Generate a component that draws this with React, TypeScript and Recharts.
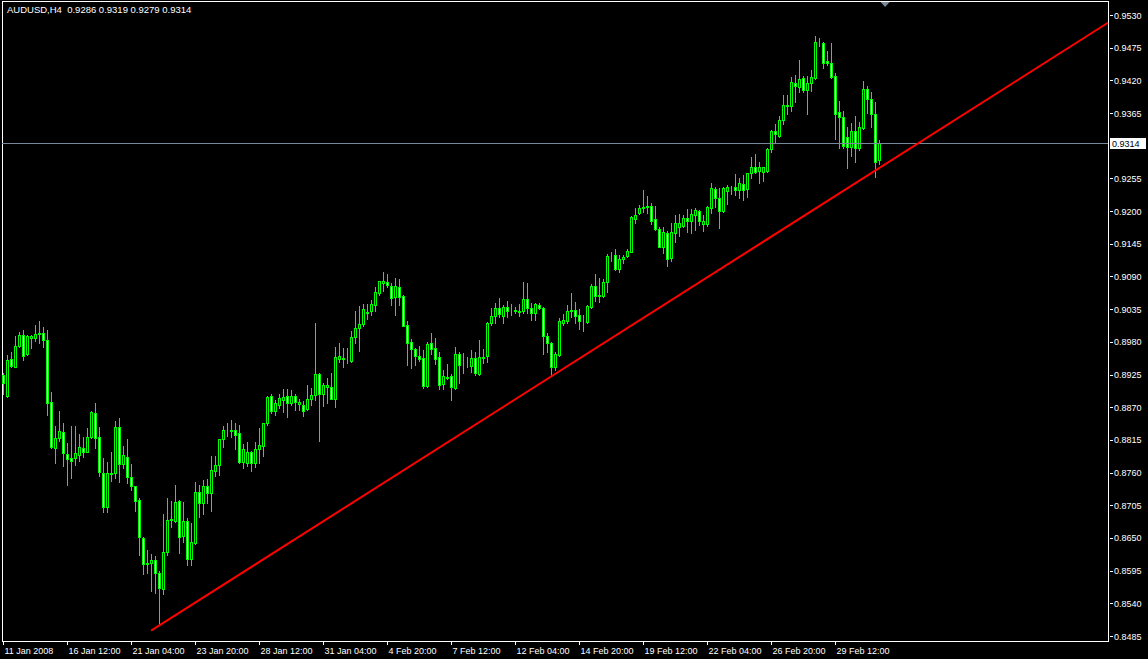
import { ComposedChart, Bar, XAxis, YAxis, ReferenceLine, ReferenceArea, ReferenceDot } from 'recharts';

// AUDUSD H4 candles, [open, high, low, close]
const ohlc: [number, number, number, number][] = [
  [0.8924, 0.8928, 0.8892, 0.8911], [0.8889, 0.8958, 0.8887, 0.8949], [0.8951, 0.8963, 0.8938, 0.8939],
  [0.8938, 0.8990, 0.8937, 0.8973], [0.8973, 0.8997, 0.8971, 0.8992], [0.8992, 0.9000, 0.8949, 0.8956],
  [0.8960, 0.8992, 0.8958, 0.8990], [0.8986, 0.8992, 0.8970, 0.8990], [0.8986, 0.9008, 0.8981, 0.8993],
  [0.8995, 0.9015, 0.8978, 0.8994], [0.8995, 0.9005, 0.8971, 0.8983], [0.8983, 0.9000, 0.8857, 0.8877],
  [0.8879, 0.8896, 0.8801, 0.8803], [0.8801, 0.8838, 0.8776, 0.8818], [0.8818, 0.8864, 0.8813, 0.8830],
  [0.8828, 0.8843, 0.8771, 0.8793], [0.8791, 0.8810, 0.8739, 0.8783], [0.8785, 0.8838, 0.8751, 0.8779],
  [0.8785, 0.8838, 0.8773, 0.8793], [0.8790, 0.8825, 0.8779, 0.8803], [0.8801, 0.8820, 0.8786, 0.8795],
  [0.8795, 0.8835, 0.8794, 0.8820], [0.8820, 0.8864, 0.8818, 0.8862], [0.8860, 0.8877, 0.8801, 0.8818],
  [0.8820, 0.8837, 0.8754, 0.8761], [0.8759, 0.8785, 0.8694, 0.8702], [0.8702, 0.8777, 0.8694, 0.8759],
  [0.8759, 0.8795, 0.8746, 0.8758], [0.8759, 0.8847, 0.8751, 0.8837], [0.8837, 0.8852, 0.8744, 0.8774],
  [0.8774, 0.8805, 0.8768, 0.8790], [0.8786, 0.8817, 0.8742, 0.8753], [0.8753, 0.8774, 0.8731, 0.8737],
  [0.8737, 0.8738, 0.8695, 0.8712], [0.8714, 0.8717, 0.8621, 0.8652], [0.8650, 0.8651, 0.8589, 0.8606],
  [0.8607, 0.8630, 0.8591, 0.8608], [0.8608, 0.8623, 0.8561, 0.8613], [0.8613, 0.8620, 0.8557, 0.8591],
  [0.8591, 0.8594, 0.8505, 0.8566], [0.8564, 0.8690, 0.8556, 0.8626], [0.8626, 0.8717, 0.8621, 0.8680],
  [0.8680, 0.8712, 0.8668, 0.8682], [0.8679, 0.8739, 0.8677, 0.8710], [0.8712, 0.8714, 0.8625, 0.8652],
  [0.8653, 0.8710, 0.8643, 0.8679], [0.8679, 0.8684, 0.8604, 0.8615], [0.8615, 0.8675, 0.8604, 0.8643],
  [0.8641, 0.8744, 0.8640, 0.8727], [0.8727, 0.8739, 0.8685, 0.8709], [0.8709, 0.8748, 0.8690, 0.8737],
  [0.8737, 0.8749, 0.8709, 0.8726], [0.8726, 0.8788, 0.8695, 0.8764], [0.8763, 0.8788, 0.8754, 0.8773],
  [0.8773, 0.8817, 0.8756, 0.8816], [0.8817, 0.8838, 0.8803, 0.8832], [0.8832, 0.8843, 0.8822, 0.8831],
  [0.8831, 0.8848, 0.8820, 0.8830], [0.8832, 0.8843, 0.8800, 0.8823], [0.8827, 0.8840, 0.8776, 0.8778],
  [0.8778, 0.8808, 0.8768, 0.8800], [0.8776, 0.8811, 0.8771, 0.8795], [0.8795, 0.8796, 0.8763, 0.8776],
  [0.8776, 0.8811, 0.8769, 0.8800], [0.8800, 0.8835, 0.8776, 0.8806], [0.8805, 0.8843, 0.8788, 0.8843],
  [0.8843, 0.8889, 0.8840, 0.8887], [0.8889, 0.8892, 0.8860, 0.8864], [0.8864, 0.8882, 0.8857, 0.8877],
  [0.8874, 0.8892, 0.8869, 0.8885], [0.8882, 0.8901, 0.8862, 0.8887], [0.8889, 0.8901, 0.8854, 0.8877],
  [0.8877, 0.8899, 0.8874, 0.8889], [0.8889, 0.8892, 0.8865, 0.8879], [0.8876, 0.8884, 0.8865, 0.8879],
  [0.8874, 0.8881, 0.8855, 0.8864], [0.8867, 0.8907, 0.8865, 0.8884], [0.8884, 0.8902, 0.8874, 0.8891],
  [0.8891, 0.9012, 0.8882, 0.8926], [0.8926, 0.8928, 0.8813, 0.8892], [0.8892, 0.8911, 0.8872, 0.8907],
  [0.8904, 0.8919, 0.8877, 0.8907], [0.8904, 0.8928, 0.8883, 0.8884], [0.8884, 0.8971, 0.8870, 0.8954],
  [0.8951, 0.8978, 0.8946, 0.8956], [0.8952, 0.8970, 0.8938, 0.8951], [0.8950, 0.8970, 0.8944, 0.8949],
  [0.8948, 0.8998, 0.8946, 0.8988], [0.8988, 0.9032, 0.8978, 0.9003], [0.9003, 0.9040, 0.8965, 0.9010],
  [0.9010, 0.9044, 0.9007, 0.9035], [0.9030, 0.9044, 0.9018, 0.9028], [0.9032, 0.9050, 0.9025, 0.9044],
  [0.9042, 0.9072, 0.9032, 0.9064], [0.9062, 0.9083, 0.9059, 0.9082], [0.9079, 0.9097, 0.9065, 0.9082],
  [0.9081, 0.9094, 0.9072, 0.9076], [0.9074, 0.9079, 0.9042, 0.9054], [0.9055, 0.9087, 0.9025, 0.9074],
  [0.9072, 0.9086, 0.9042, 0.9055], [0.9057, 0.9059, 0.9006, 0.9007], [0.9008, 0.9015, 0.8941, 0.8978],
  [0.8980, 0.8985, 0.8936, 0.8968], [0.8968, 0.8970, 0.8941, 0.8956], [0.8956, 0.8973, 0.8948, 0.8951],
  [0.8953, 0.8966, 0.8902, 0.8906], [0.8906, 0.8980, 0.8904, 0.8976], [0.8978, 0.8995, 0.8959, 0.8968],
  [0.8970, 0.8986, 0.8943, 0.8951], [0.8954, 0.8963, 0.8901, 0.8907], [0.8909, 0.8933, 0.8901, 0.8922],
  [0.8921, 0.8943, 0.8918, 0.8920], [0.8922, 0.8926, 0.8882, 0.8904], [0.8902, 0.8971, 0.8901, 0.8960],
  [0.8960, 0.8963, 0.8911, 0.8941], [0.8942, 0.8961, 0.8928, 0.8943], [0.8943, 0.8954, 0.8938, 0.8942],
  [0.8939, 0.8966, 0.8929, 0.8953], [0.8953, 0.8963, 0.8924, 0.8928], [0.8926, 0.8983, 0.8924, 0.8955],
  [0.8954, 0.8968, 0.8944, 0.8953], [0.8956, 0.9013, 0.8946, 0.9012], [0.9012, 0.9037, 0.9008, 0.9023],
  [0.9023, 0.9045, 0.9012, 0.9037], [0.9037, 0.9054, 0.9022, 0.9027], [0.9023, 0.9042, 0.9012, 0.9039],
  [0.9039, 0.9049, 0.9022, 0.9032], [0.9033, 0.9044, 0.9025, 0.9034], [0.9033, 0.9039, 0.9029, 0.9032],
  [0.9032, 0.9044, 0.9023, 0.9031], [0.9032, 0.9081, 0.9029, 0.9052], [0.9052, 0.9079, 0.9029, 0.9037],
  [0.9037, 0.9045, 0.9017, 0.9029], [0.9029, 0.9046, 0.9017, 0.9044], [0.9042, 0.9046, 0.9035, 0.9037],
  [0.9037, 0.9039, 0.8960, 0.8990], [0.8990, 0.8995, 0.8963, 0.8978], [0.8978, 0.8979, 0.8923, 0.8938],
  [0.8938, 0.8963, 0.8933, 0.8960], [0.8958, 0.9020, 0.8956, 0.9015], [0.9012, 0.9027, 0.9008, 0.9017],
  [0.9015, 0.9042, 0.9012, 0.9032], [0.9032, 0.9062, 0.9022, 0.9033], [0.9034, 0.9047, 0.9012, 0.9024],
  [0.9025, 0.9035, 0.9002, 0.9015], [0.9016, 0.9025, 0.8998, 0.9017], [0.9014, 0.9042, 0.9012, 0.9040],
  [0.9039, 0.9077, 0.9037, 0.9074], [0.9074, 0.9094, 0.9049, 0.9057], [0.9057, 0.9087, 0.9047, 0.9059],
  [0.9057, 0.9086, 0.9055, 0.9081], [0.9081, 0.9128, 0.9064, 0.9124], [0.9124, 0.9131, 0.9116, 0.9125],
  [0.9126, 0.9136, 0.9101, 0.9103], [0.9103, 0.9126, 0.9098, 0.9119], [0.9119, 0.9126, 0.9113, 0.9123],
  [0.9124, 0.9136, 0.9123, 0.9133], [0.9132, 0.9191, 0.9131, 0.9190], [0.9187, 0.9205, 0.9180, 0.9193],
  [0.9197, 0.9210, 0.9195, 0.9205], [0.9205, 0.9236, 0.9198, 0.9207], [0.9207, 0.9225, 0.9197, 0.9209],
  [0.9209, 0.9214, 0.9178, 0.9183], [0.9187, 0.9209, 0.9168, 0.9170], [0.9170, 0.9173, 0.9139, 0.9140],
  [0.9140, 0.9173, 0.9129, 0.9165], [0.9163, 0.9167, 0.9108, 0.9119], [0.9121, 0.9180, 0.9116, 0.9165],
  [0.9163, 0.9193, 0.9148, 0.9180], [0.9173, 0.9195, 0.9158, 0.9180], [0.9175, 0.9193, 0.9173, 0.9188],
  [0.9188, 0.9204, 0.9165, 0.9183], [0.9183, 0.9204, 0.9163, 0.9195], [0.9193, 0.9205, 0.9168, 0.9202],
  [0.9200, 0.9202, 0.9177, 0.9183], [0.9178, 0.9193, 0.9167, 0.9183], [0.9178, 0.9209, 0.9175, 0.9207],
  [0.9205, 0.9247, 0.9197, 0.9239], [0.9237, 0.9241, 0.9207, 0.9222], [0.9222, 0.9239, 0.9172, 0.9200],
  [0.9200, 0.9241, 0.9198, 0.9239], [0.9234, 0.9244, 0.9212, 0.9241], [0.9241, 0.9242, 0.9229, 0.9240],
  [0.9241, 0.9263, 0.9227, 0.9236], [0.9236, 0.9256, 0.9222, 0.9247], [0.9246, 0.9261, 0.9219, 0.9236],
  [0.9237, 0.9264, 0.9224, 0.9264], [0.9264, 0.9291, 0.9256, 0.9274], [0.9274, 0.9296, 0.9264, 0.9266],
  [0.9267, 0.9282, 0.9247, 0.9274], [0.9266, 0.9275, 0.9251, 0.9274], [0.9267, 0.9306, 0.9266, 0.9304],
  [0.9304, 0.9336, 0.9300, 0.9335], [0.9335, 0.9346, 0.9314, 0.9330], [0.9327, 0.9360, 0.9325, 0.9353],
  [0.9353, 0.9395, 0.9347, 0.9378], [0.9378, 0.9395, 0.9363, 0.9377], [0.9377, 0.9426, 0.9368, 0.9417],
  [0.9416, 0.9429, 0.9384, 0.9411], [0.9409, 0.9454, 0.9400, 0.9422], [0.9424, 0.9427, 0.9400, 0.9404],
  [0.9404, 0.9427, 0.9363, 0.9416], [0.9416, 0.9437, 0.9402, 0.9426], [0.9424, 0.9495, 0.9422, 0.9485],
  [0.9485, 0.9491, 0.9478, 0.9484], [0.9483, 0.9485, 0.9441, 0.9449], [0.9453, 0.9469, 0.9446, 0.9449],
  [0.9449, 0.9483, 0.9424, 0.9426], [0.9427, 0.9432, 0.9321, 0.9363], [0.9367, 0.9385, 0.9306, 0.9358],
  [0.9358, 0.9368, 0.9306, 0.9310], [0.9325, 0.9342, 0.9272, 0.9308], [0.9308, 0.9348, 0.9293, 0.9335],
  [0.9335, 0.9360, 0.9283, 0.9306], [0.9306, 0.9350, 0.9303, 0.9342], [0.9340, 0.9419, 0.9339, 0.9406],
  [0.9406, 0.9411, 0.9365, 0.9389], [0.9389, 0.9400, 0.9342, 0.9363], [0.9363, 0.9384, 0.9257, 0.9283],
  [0.9286, 0.9319, 0.9279, 0.9314],
];

const timeTickBars = [0, 16, 32, 48, 64, 80, 96, 112, 128, 144, 160, 176, 192, 208];
const timeLabels = [
  '11 Jan 2008', '16 Jan 12:00', '21 Jan 04:00', '23 Jan 20:00', '28 Jan 12:00', '31 Jan 04:00', '4 Feb 20:00',
  '7 Feb 12:00', '12 Feb 04:00', '14 Feb 20:00', '19 Feb 12:00', '22 Feb 04:00', '26 Feb 20:00', '29 Feb 12:00',
];
const priceTicks = [
  0.9530, 0.9475, 0.9420, 0.9365, 0.9255, 0.9200, 0.9145, 0.9090, 0.9035, 0.8980,
  0.8925, 0.8870, 0.8815, 0.8760, 0.8705, 0.8650, 0.8595, 0.8540, 0.8485,
];
const trendline = [
  { x: 36.9, y: 0.8494 },
  { x: 276.1, y: 0.9517 },
];
const symbol = 'AUDUSD';
const period = 'H4';
const shiftMarkBar = 220.4;

const X_DOMAIN: [number, number] = [-0.375, 276.125];
const Y_DOMAIN: [number, number] = [0.84766, 0.95536];
const LIME = '#00ff00';
const FONT = '"Liberation Sans", Arial, sans-serif';

const data = ohlc.map(([o, h, l, c], i) => ({ i, o, h, l, c }));
const last = ohlc[ohlc.length - 1];
const lastPrice = last[3];

function Candle(props: any) {
  const { x, y, width, height, payload } = props;
  if (payload == null || height == null || isNaN(height)) return null;
  const { o, h, l, c } = payload;
  const cx = Math.floor(x + width / 2) + 0.5;
  const k = height / (h - l);
  const py = (v: number) => y + (h - v) * k;
  const top = Math.round(py(Math.max(o, c))) + 0.5;
  const bottom = Math.round(py(Math.min(o, c))) + 0.5;
  return (
    <g>
      <line x1={cx} x2={cx} y1={Math.round(py(h))} y2={Math.round(py(l)) + 1} stroke={LIME} />
      <rect x={cx - 1} y={top} width={2} height={bottom - top} fill={c < o ? '#fff' : '#000'} stroke={LIME} />
    </g>
  );
}

function TimeTick(props: any) {
  const { x, y, payload } = props;
  const idx = timeTickBars.indexOf(payload.value);
  const tx = Math.floor(x) + 0.5;
  return (
    <g>
      <line x1={tx} x2={tx} y1={y} y2={y + 4} stroke="#fff" />
      <text x={tx + 1} y={y + 13} fill="#fff" fontSize={9} fontFamily={FONT}>
        {timeLabels[idx]}
      </text>
    </g>
  );
}

function PriceTick(props: any) {
  const { x, y, payload } = props;
  const ty = Math.round(y) + 0.5;
  return (
    <g>
      <line x1={x + 2} x2={x + 5} y1={ty} y2={ty} stroke="#fff" />
      <text x={x + 6} y={y + 3.5} fill="#fff" fontSize={9} fontFamily={FONT}>
        {payload.value.toFixed(4)}
      </text>
    </g>
  );
}

function PriceTag(props: any) {
  const { viewBox } = props;
  if (!viewBox) return null;
  const right = viewBox.x + viewBox.width;
  const yy = viewBox.y;
  return (
    <g>
      <rect x={right + 2} y={Math.round(yy) - 5} width={36} height={11} fill="#fff" />
      <text x={right + 4} y={yy + 3.5} fill="#000" fontSize={9} fontFamily={FONT}>
        {lastPrice.toFixed(4)}
      </text>
    </g>
  );
}

function ShiftMark(props: any) {
  const { cx } = props;
  return <polygon points={`${cx - 4.5},2 ${cx + 4.5},2 ${cx},7`} fill="#7a8898" />;
}

export default function App() {
  return (
    <div style={{ position: 'relative', width: 1148, height: 659, background: '#000' }}>
      <style>{'body{margin:0;background:#000}'}</style>
      <ComposedChart width={1148} height={659} data={data} margin={{ top: 1, right: 0, bottom: 0, left: 2 }}>
        <XAxis
          type="number"
          dataKey="i"
          domain={X_DOMAIN}
          ticks={timeTickBars}
          interval={0}
          allowDataOverflow
          height={18}
          tickSize={0}
          tickMargin={0}
          axisLine={false}
          tickLine={false}
          tick={<TimeTick />}
        />
        <YAxis
          orientation="right"
          width={40}
          domain={Y_DOMAIN}
          ticks={priceTicks}
          interval={0}
          allowDataOverflow
          tickSize={0}
          tickMargin={0}
          axisLine={false}
          tickLine={false}
          tick={<PriceTick />}
        />
        <ReferenceArea
          x1={X_DOMAIN[0]}
          x2={X_DOMAIN[1]}
          y1={Y_DOMAIN[0]}
          y2={Y_DOMAIN[1]}
          fill="none"
          stroke="#fff"
          shapeRendering="crispEdges"
          ifOverflow="visible"
        />
        <ReferenceLine y={lastPrice} stroke="#778899" shapeRendering="crispEdges" label={<PriceTag />} />
        <Bar
          dataKey={(d: any) => [d.l, d.h]}
          barSize={4}
          shape={<Candle />}
          isAnimationActive={false}
        />
        <ReferenceLine segment={trendline} stroke="#ff0000" strokeWidth={2} ifOverflow="visible" />
        <ReferenceDot x={shiftMarkBar} y={Y_DOMAIN[1]} ifOverflow="visible" shape={<ShiftMark />} />
      </ComposedChart>
      <div
        style={{
          position: 'absolute',
          left: 7,
          top: 5,
          color: '#fff',
          fontFamily: FONT,
          fontSize: 9.5,
          lineHeight: '10px',
          whiteSpace: 'pre',
        }}
      >
        {`${symbol},${period}  ${last.map((v) => v.toFixed(4)).join(' ')}`}
      </div>
    </div>
  );
}
